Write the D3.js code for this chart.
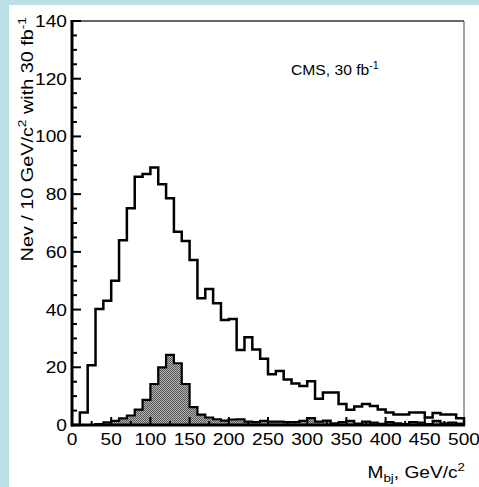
<!DOCTYPE html>
<html lang="en">
<head>
    <meta charset="UTF-8">
    <title>CMS Mbj histogram</title>
    <script src="https://d3js.org/d3.v7.min.js"></script>
    <style>
        body { margin: 0; background: #b9e0e4; }
        svg { display: block; }
        text { font-family: "Liberation Sans", Arial, sans-serif; fill: #000; }
    </style>
</head>
<body>
<div id="chart"></div>
<script>
// bin lower edges, GeV/c^2 (10 GeV bins)
var binLow = d3.range(0, 500, 10);

// events per bin, total (open histogram)
var background = [
    0, 4.3, 20.7, 40.2, 43.1, 50, 64, 75.1, 86, 87,
    89.2, 83.4, 78.6, 67, 63.8, 57.2, 43.9, 47.1, 42.2, 36.4,
    36.7, 26, 30.4, 26.2, 23, 17.6, 18.7, 15.8, 14.4, 13.5,
    15.2, 9.1, 11.3, 11.3, 7.3, 5.3, 6.4, 7.3, 6.6, 5.4,
    4.3, 3.6, 3.6, 4.3, 4.3, 2.6, 4.2, 3.6, 3.6, 2.3
];

// events per bin, signal (shaded histogram)
var signal = [
    0, 0, 0, 0.3, 0.9, 1.4, 2.3, 3.3, 5.3, 8.7,
    14.2, 20, 24.3, 21.4, 14.2, 6.2, 3.6, 2.6, 2.0, 1.5,
    1.9, 2.0, 1.2, 1.0, 1.4, 1.2, 1.2, 1.0, 1.0, 1.4,
    2.4, 1.2, 1.5, 0.6, 1.0, 1.4, 0.5, 1.2, 0.8, 0.4,
    1.0, 0.6, 0.3, 1.0, 0.8, 0.3, 1.4, 0.6, 0.8, 0.5
];

var xTicks = [0, 50, 100, 150, 200, 250, 300, 350, 400, 450, 500];
var yTicks = [0, 20, 40, 60, 80, 100, 120, 140];

var width = 479, height = 487;
var margin = {left: 72, right: 15, top: 21, bottom: 62};
var binWidth = 10;
var stretch = 1.16; // the original font is set wide

var svg = d3.select("#chart").append("svg")
    .attr("width", width)
    .attr("height", height);

svg.append("rect")
    .attr("x", 9).attr("y", 5)
    .attr("width", width - 9).attr("height", height - 5)
    .attr("fill", "#fff");

var defs = svg.append("defs");
var pat = defs.append("pattern")
    .attr("id", "dots")
    .attr("width", 2).attr("height", 2)
    .attr("patternUnits", "userSpaceOnUse");
pat.append("rect").attr("width", 2).attr("height", 2).attr("fill", "#b0b0b0");
pat.append("rect").attr("width", 1).attr("height", 1).attr("fill", "#5a5a5a");
pat.append("rect").attr("x", 1).attr("y", 1).attr("width", 1).attr("height", 1).attr("fill", "#5a5a5a");

var x = d3.scaleLinear().domain([0, 500]).range([margin.left, width - margin.right]);
var y = d3.scaleLinear().domain([0, 140]).range([height - margin.bottom, margin.top]);

// step outline of a histogram
function stepPath(values) {
    var pts = [[x(0), y(0)]];
    values.forEach(function(v, i) {
        pts.push([x(binLow[i]), y(v)]);
        pts.push([x(binLow[i] + binWidth), y(v)]);
    });
    pts.push([x(500), y(0)]);
    return d3.line()(pts);
}

// frame
svg.append("line")
    .attr("x1", x(0)).attr("x2", x(500))
    .attr("y1", y(140)).attr("y2", y(140))
    .attr("stroke", "#333").attr("stroke-width", 1.5);
svg.append("line")
    .attr("x1", x(500)).attr("x2", x(500))
    .attr("y1", y(140)).attr("y2", y(0))
    .attr("stroke", "#444").attr("stroke-width", 1);

// signal histogram
svg.append("path")
    .attr("d", stepPath(signal) + "Z")
    .attr("fill", "url(#dots)")
    .attr("stroke", "#000")
    .attr("stroke-width", 2.2)
    .attr("stroke-linejoin", "miter");

// total histogram
svg.append("path")
    .attr("d", stepPath(background))
    .attr("fill", "none")
    .attr("stroke", "#000")
    .attr("stroke-width", 2.5)
    .attr("stroke-linejoin", "miter");

// x axis (ticks pointing inward)
var xAxis = svg.append("g");
xAxis.selectAll("line.tk")
    .data(d3.range(0, 501, 25))
    .enter().append("line")
    .attr("x1", function(d) { return x(d); })
    .attr("x2", function(d) { return x(d); })
    .attr("y1", y(0))
    .attr("y2", function(d) { return y(0) - (d % 50 === 0 ? 8 : 4); })
    .attr("stroke", "#000").attr("stroke-width", 2);
xAxis.append("line")
    .attr("x1", x(0) - 1).attr("x2", x(500) + 1)
    .attr("y1", y(0)).attr("y2", y(0))
    .attr("stroke", "#000").attr("stroke-width", 3);

// y axis
var yAxis = svg.append("g");
yAxis.selectAll("line.tk")
    .data(d3.range(0, 141, 5))
    .enter().append("line")
    .attr("x1", x(0))
    .attr("x2", function(d) { return x(0) + (d % 20 === 0 ? 9 : 5); })
    .attr("y1", function(d) { return y(d); })
    .attr("y2", function(d) { return y(d); })
    .attr("stroke", "#000").attr("stroke-width", 2);
yAxis.append("line")
    .attr("x1", x(0)).attr("x2", x(0))
    .attr("y1", y(140) - 1).attr("y2", y(0) + 1.5)
    .attr("stroke", "#000").attr("stroke-width", 3);

// tick labels
svg.selectAll("text.xt")
    .data(xTicks)
    .enter().append("text")
    .attr("class", "xt")
    .attr("transform", function(d) { return "translate(" + x(d) + "," + (y(0) + 20) + ") scale(" + stretch + ",1)"; })
    .attr("text-anchor", "middle")
    .style("font-size", "16.5px")
    .text(function(d) { return d; });

svg.selectAll("text.yt")
    .data(yTicks)
    .enter().append("text")
    .attr("class", "yt")
    .attr("transform", function(d) { return "translate(" + (x(0) - 5) + "," + (y(d) + 6) + ") scale(" + stretch + ",1)"; })
    .attr("text-anchor", "end")
    .style("font-size", "16.5px")
    .text(function(d) { return d; });

// axis titles
var xt = svg.append("text")
    .attr("transform", "translate(" + (x(500) + 1) + "," + (y(0) + 53) + ") scale(" + stretch + ",1)")
    .attr("text-anchor", "end")
    .style("font-size", "16.5px");
xt.append("tspan").text("M");
xt.append("tspan").attr("dy", 4).style("font-size", "11.5px").text("bj");
xt.append("tspan").attr("dy", -4).text(", GeV/c");
xt.append("tspan").attr("dy", -7).style("font-size", "11.5px").text("2");

var yt = svg.append("text")
    .attr("transform", "translate(33,17) rotate(-90) scale(" + (stretch + 0.04) + ",1)")
    .attr("text-anchor", "end")
    .style("font-size", "16.5px");
yt.append("tspan").text("Nev / 10 GeV/c");
yt.append("tspan").attr("dy", -7).style("font-size", "11.5px").text("2");
yt.append("tspan").attr("dy", 7).text(" with 30 fb");
yt.append("tspan").attr("dy", -7).style("font-size", "11.5px").text("-1");

var cms = svg.append("text")
    .attr("transform", "translate(291,75) scale(1.08,1)")
    .style("font-size", "14.5px");
cms.append("tspan").text("CMS, 30 fb");
cms.append("tspan").attr("dy", -6).style("font-size", "10px").text("-1");
</script>
</body>
</html>
